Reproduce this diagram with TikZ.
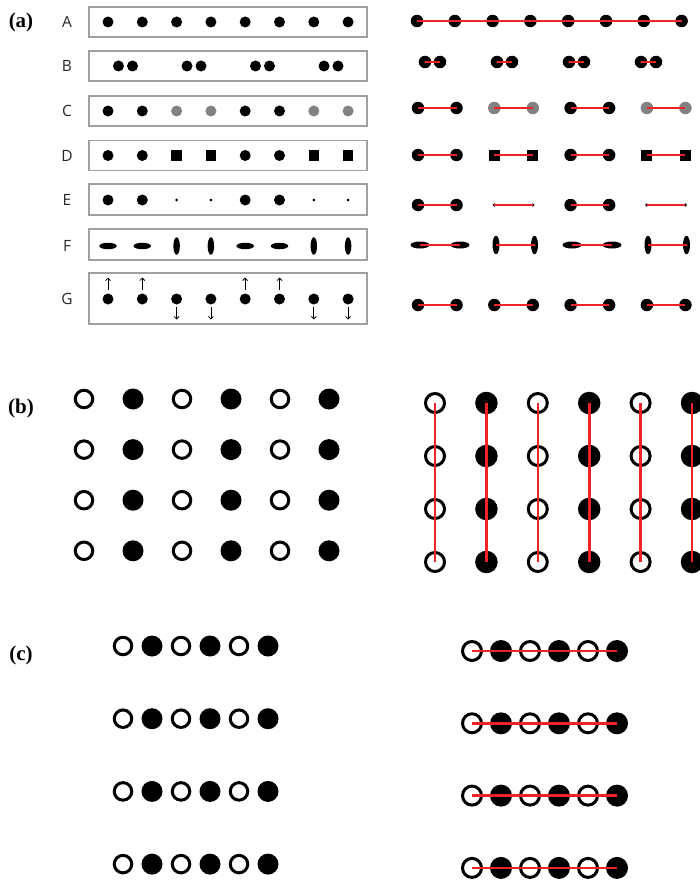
\documentclass[tikz,border=0pt]{standalone}
\usepackage{fontspec}
\setmainfont{Liberation Serif}
\newfontfamily\labfont{Open Sans}
\usetikzlibrary{shapes.geometric,arrows.meta}
\definecolor{redl}{RGB}{236,36,40}
\definecolor{grayd}{RGB}{130,130,130}
\definecolor{boxgray}{RGB}{160,160,160}
\tikzset{
  panellab/.style={font=\fontsize{21}{21}\selectfont\bfseries, inner sep=0pt},
  rowlab/.style={font=\labfont\fontsize{15.5}{15.5}\selectfont, text=black!85, inner sep=0pt},
  rowbox/.style={draw=boxgray, line width=1.1pt, minimum width=278pt, minimum height=30pt, inner sep=0pt},
  dotL/.style={circle, fill=black, inner sep=0pt, outer sep=0pt, minimum size=11pt},
  dotLg/.style={dotL, fill=grayd},
  dotLs/.style={circle, fill=black, inner sep=0pt, minimum size=3pt},
  sqL/.style={rectangle, fill=black, inner sep=0pt, minimum size=10.5pt},
  ellH/.style={ellipse, fill=black, inner sep=0pt, minimum width=17.5pt, minimum height=6.5pt},
  ellV/.style={ellipse, fill=black, inner sep=0pt, minimum width=6.5pt, minimum height=17.5pt},
  dotR/.style={circle, fill=black, inner sep=0pt, outer sep=0pt, minimum size=12.5pt},
  dotRg/.style={dotR, fill=grayd},
  dotRs/.style={circle, fill=black, inner sep=0pt, minimum size=3.5pt},
  sqR/.style={rectangle, fill=black, inner sep=0pt, minimum size=11pt},
  ellRH/.style={ellipse, fill=black, inner sep=0pt, minimum width=19pt, minimum height=7pt},
  ellRV/.style={ellipse, fill=black, inner sep=0pt, minimum width=7pt, minimum height=18.5pt},
  redline/.style={draw=redl, line width=2.4pt},
  redthick/.style={draw=redl, line width=2.6pt},
  garrow/.style={-{Straight Barb[length=2.5pt,width=5pt]}, line width=0.8pt},
  openB/.style={circle, draw=black, line width=3pt, fill=white, inner sep=0pt, minimum size=#1},
  fillB/.style={circle, fill=black, inner sep=0pt, minimum size=#1},
}
\begin{document}
\begin{tikzpicture}[x=1pt,y=-1pt]
\useasboundingbox (0,0) rectangle (700,880);

% ---------- panel labels ----------
\node[panellab] (pa) at (21,22) {(a)};
\node[panellab] (pb) at (21,408) {(b)};
\node[panellab] (pc) at (21,655) {(c)};

% ---------- (a) left: boxes and labels ----------
\node[rowlab] (labA) at (67,22) {A};
\node[rowlab] (labB) at (67,66) {B};
\node[rowlab] (labC) at (67,111) {C};
\node[rowlab] (labD) at (67,156) {D};
\node[rowlab] (labE) at (67,200) {E};
\node[rowlab] (labF) at (67,246) {F};
\node[rowlab] (labG) at (67,299) {G};

\node[rowbox] (boxA) at (228,22) {};
\node[rowbox] (boxB) at (228,66) {};
\node[rowbox] (boxC) at (228,111) {};
\node[rowbox] (boxD) at (228,155.5) {};
\node[rowbox, minimum height=31pt] (boxE) at (228,199.5) {};
\node[rowbox, minimum height=31pt] (boxF) at (228,244.5) {};
\node[rowbox, minimum height=51pt] (boxG) at (228,298.5) {};

% A
\foreach \i in {1,...,8}
  \node[dotL] (aA\i) at ({108+34.3*(\i-1)},22) {};
% B
\foreach \k in {0,...,3} {
  \node[dotL] (aB\k l) at ({118.5+68.5*\k},66) {};
  \node[dotL] (aB\k r) at ({132.5+68.5*\k},66) {};
}
% C
\foreach \i/\s in {1/dotL,2/dotL,3/dotLg,4/dotLg,5/dotL,6/dotL,7/dotLg,8/dotLg}
  \node[\s] (aC\i) at ({108+34.3*(\i-1)},111) {};
% D
\foreach \i/\s in {1/dotL,2/dotL,3/sqL,4/sqL,5/dotL,6/dotL,7/sqL,8/sqL}
  \node[\s] (aD\i) at ({108+34.3*(\i-1)},155.5) {};
% E
\foreach \i/\s in {1/dotL,2/dotL,3/dotLs,4/dotLs,5/dotL,6/dotL,7/dotLs,8/dotLs}
  \node[\s] (aE\i) at ({108+34.3*(\i-1)},200) {};
% F
\foreach \i/\s in {1/ellH,2/ellH,3/ellV,4/ellV,5/ellH,6/ellH,7/ellV,8/ellV}
  \node[\s] (aF\i) at ({108+34.3*(\i-1)},246) {};
% G
\foreach \i in {1,...,8}
  \node[dotL] (aG\i) at ({108+34.3*(\i-1)},299) {};
\foreach \i in {1,2,5,6}
  \draw[garrow] ([yshift=4pt]aG\i.north) -- ++(0,-12);
\foreach \i in {3,4,7,8}
  \draw[garrow] ([yshift=-2pt]aG\i.south) -- ++(0,13);

% ---------- (a) right ----------
% A
\foreach \i in {1,...,8}
  \node[dotR] (rA\i) at ({417+37.8*(\i-1)},21) {};
\draw[redline] (rA1.center) -- (rA8.center);
% B
\foreach \k in {0,...,3} {
  \node[dotR] (rB\k l) at ({425+72*\k},62) {};
  \node[dotR] (rB\k r) at ({440+72*\k},62) {};
  \draw[redline] (rB\k l.center) -- (rB\k r.center);
}
% C
\foreach \k/\s in {0/dotR,1/dotRg,2/dotR,3/dotRg} {
  \node[\s] (rC\k l) at ({418+76.3*\k},108) {};
  \node[\s] (rC\k r) at ({456.5+76.3*\k},108) {};
  \draw[redline] (rC\k l.center) -- (rC\k r.center);
}
% D
\foreach \k/\s in {0/dotR,1/sqR,2/dotR,3/sqR} {
  \node[\s] (rD\k l) at ({418+76.3*\k},155) {};
  \node[\s] (rD\k r) at ({456.5+76.3*\k},155) {};
  \draw[redline] (rD\k l.center) -- (rD\k r.center);
}
% E
\foreach \k/\s in {0/dotR,1/dotRs,2/dotR,3/dotRs} {
  \node[\s] (rE\k l) at ({418+76.3*\k},205) {};
  \node[\s] (rE\k r) at ({456.5+76.3*\k},205) {};
  \draw[redline] (rE\k l.center) -- (rE\k r.center);
}
% F
\foreach \k/\s in {0/ellRH,1/ellRV,2/ellRH,3/ellRV} {
  \node[\s] (rF\k l) at ({420+76*\k},245) {};
  \node[\s] (rF\k r) at ({460+76*\k-1.5*mod(\k,2)},245) {};
  \draw[redline] (rF\k l.center) -- (rF\k r.center);
}
% G
\foreach \k in {0,...,3} {
  \node[dotR] (rG\k l) at ({418+76.3*\k},305) {};
  \node[dotR] (rG\k r) at ({456.5+76.3*\k},305) {};
  \draw[redline] (rG\k l.center) -- (rG\k r.center);
}

% ---------- (b) left ----------
\foreach \r in {0,...,3} {
  \foreach \c in {0,2,4}
    \node[openB=17.5pt] (bl\r-\c) at ({84+49*\c},{399+50.6*\r}) {};
  \foreach \c in {1,3,5}
    \node[fillB=21pt] (bl\r-\c) at ({84+49*\c},{399+50.6*\r}) {};
}

% ---------- (b) right ----------
\foreach \r in {0,...,3} {
  \foreach \c in {0,2,4}
    \node[openB=19pt] (br\r-\c) at ({435+51.4*\c},{403+53*\r}) {};
  \foreach \c in {1,3,5}
    \node[fillB=22.5pt] (br\r-\c) at ({435+51.4*\c},{403+53*\r}) {};
}
\foreach \c in {0,...,5}
  \draw[redthick] (br0-\c.center) -- (br3-\c.center);

% ---------- (c) left ----------
\foreach \r in {0,...,3} {
  \foreach \c in {0,2,4}
    \node[openB=17.5pt] (cl\r-\c) at ({123+29*\c},{646+72.7*\r}) {};
  \foreach \c in {1,3,5}
    \node[fillB=21pt] (cl\r-\c) at ({123+29*\c},{646+72.7*\r}) {};
}

% ---------- (c) right ----------
\foreach \r in {0,...,3} {
  \foreach \c in {0,2,4}
    \node[openB=19pt] (cr\r-\c) at ({472+29*\c},{651+72.3*\r}) {};
  \foreach \c in {1,3,5}
    \node[fillB=22pt] (cr\r-\c) at ({472+29*\c},{651+72.3*\r}) {};
  \draw[redthick] (cr\r-0.center) -- (cr\r-5.center);
}
\end{tikzpicture}
\end{document}
